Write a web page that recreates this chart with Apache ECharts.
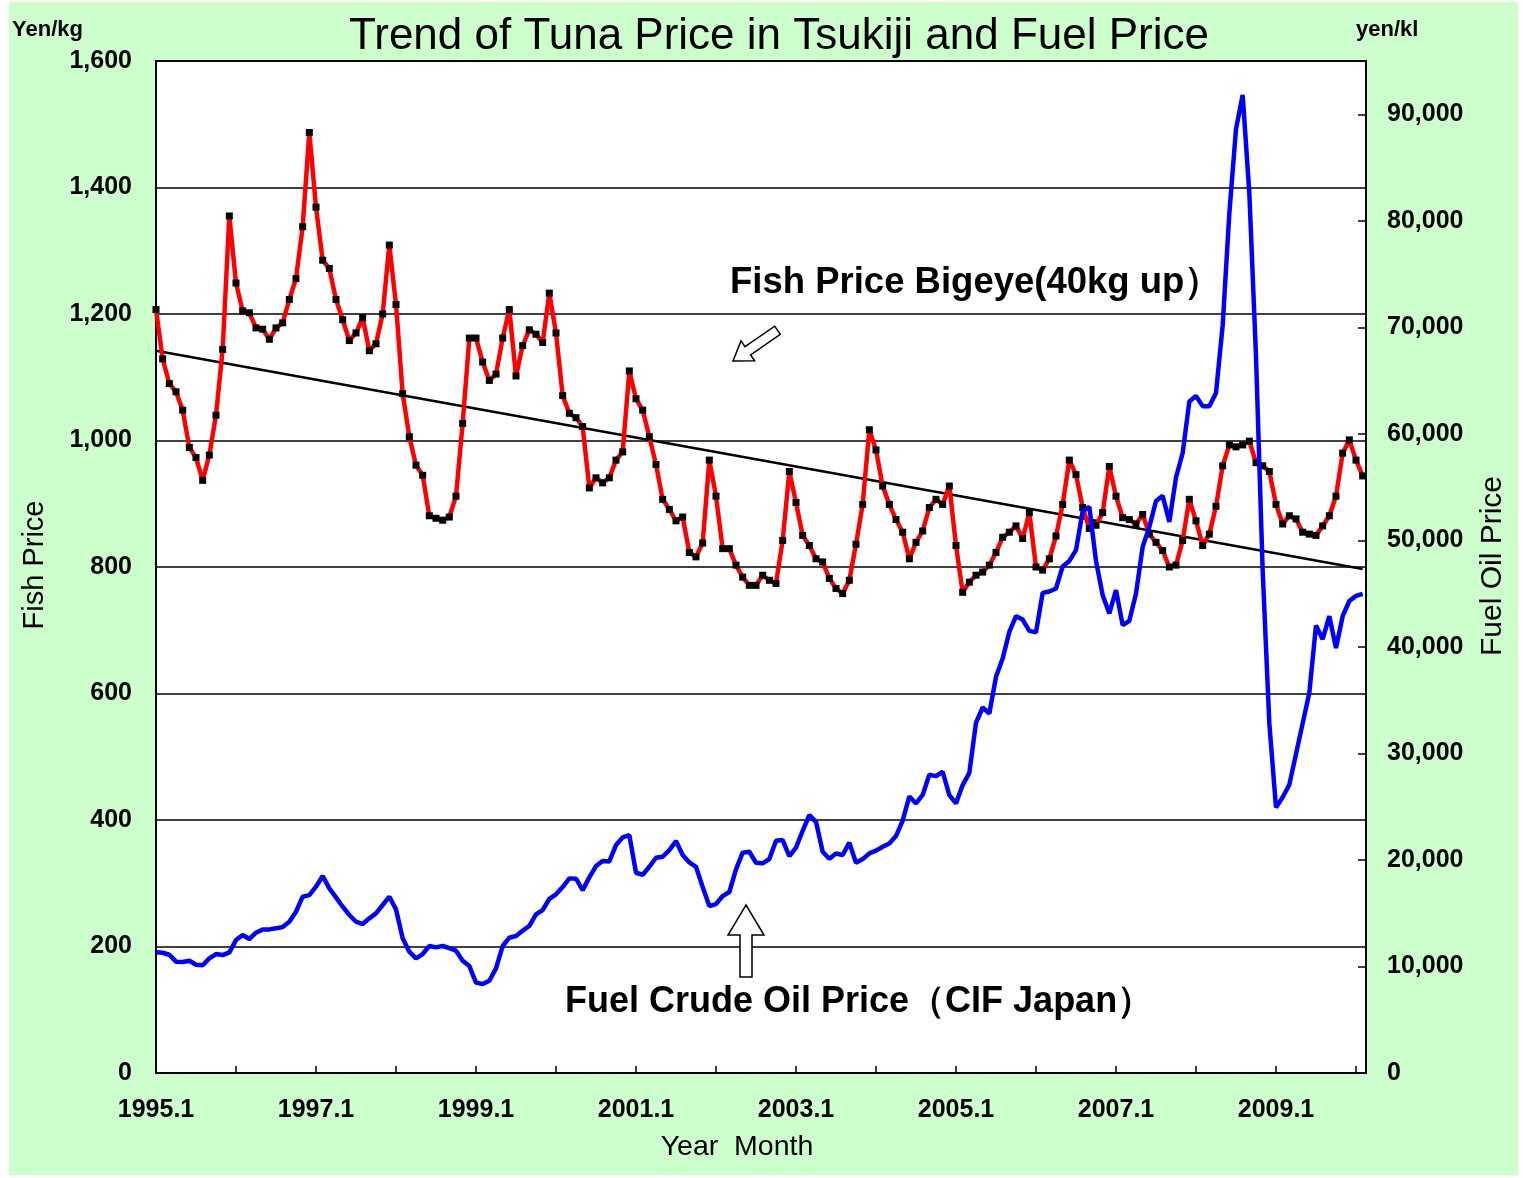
<!DOCTYPE html>
<html>
<head>
<meta charset="utf-8">
<script src="https://cdn.jsdelivr.net/npm/echarts@6/dist/echarts.min.js"></script>
<style>
    html, body {margin: 0; padding: 0; background: #fff;}
    #main {position: absolute; left: 9px; top: 2px; width: 1509px; height: 1173px;}
</style>
</head>
<body>
<div id="main"></div>
<script>
// monthly data, 1995.1 - 2010.2
const startYear = 1995;

// Tsukiji bigeye tuna price (yen/kg)
const fishPrice = [
    1207, 1129, 1090, 1077, 1048, 989, 973, 937, 977, 1040, 1144, 1355,
    1249, 1205, 1202, 1178, 1176, 1160, 1178, 1186, 1223, 1256, 1338, 1487,
    1369, 1285, 1272, 1223, 1191, 1158, 1170, 1194, 1142, 1153, 1200, 1309,
    1215, 1074, 1006, 961, 945, 881, 877, 874, 879, 912, 1027, 1162,
    1162, 1124, 1095, 1105, 1162, 1207, 1102, 1150, 1175, 1168, 1155, 1233,
    1170, 1071, 1043, 1036, 1022, 925, 941, 933, 941, 969, 982, 1110,
    1066, 1048, 1006, 962, 907, 891, 873, 879, 823, 816, 838, 969,
    912, 829, 829, 803, 784, 771, 771, 787, 779, 774, 842, 951,
    902, 850, 834, 813, 808, 782, 766, 758, 779, 836, 899, 1017,
    985, 928, 899, 875, 855, 813, 839, 857, 894, 907, 899, 928,
    834, 760, 776, 787, 792, 803, 823, 847, 855, 865, 845, 886,
    800, 795, 813, 849, 899, 969, 946, 894, 861, 866, 886, 959,
    912, 878, 875, 868, 883, 852, 839, 826, 800, 803, 842, 907,
    873, 834, 852, 896, 960, 993, 990, 993, 999, 965, 960, 951,
    899, 868, 881, 876, 855, 852, 850, 865, 881, 912, 980, 1001,
    969, 944
];

// fuel crude oil price, CIF Japan (yen/kl)
const oilPrice = [
    11330, 11290, 11100, 10450, 10420, 10540, 10160, 10110, 10760, 11170, 11070, 11330,
    12480, 12950, 12580, 13170, 13480, 13480, 13580, 13700, 14200, 15140, 16550, 16700,
    17490, 18490, 17330, 16490, 15610, 14830, 14200, 13980, 14520, 14980, 15770, 16550,
    15360, 12640, 11390, 10760, 11170, 11920, 11790, 11920, 11730, 11480, 10540, 10040,
    8480, 8350, 8660, 9820, 11920, 12700, 12860, 13360, 13800, 14880, 15300, 16350,
    16770, 17460, 18270, 18240, 17170, 18360, 19430, 19900, 19860, 21400, 22120, 22340,
    18800, 18610, 19360, 20210, 20300, 20930, 21770, 20460, 19770, 19360, 17460, 15670,
    15860, 16610, 16990, 19110, 20680, 20770, 19740, 19680, 20080, 21800, 21870, 20360,
    21150, 22740, 24210, 23580, 20770, 20110, 20610, 20460, 21620, 19740, 20080, 20610,
    20870, 21240, 21550, 22240, 23700, 25960, 25310, 26100, 28000, 27870, 28280, 26090,
    25310, 27030, 28180, 32880, 34310, 33750, 37190, 38910, 41410, 42880, 42570, 41500,
    41360, 45070, 45200, 45480, 47550, 48070, 49080, 52740, 53150, 48070, 44860, 43140,
    45330, 42040, 42450, 45010, 49390, 51270, 53700, 54180, 51740, 55900, 58200, 63040,
    63560, 62600, 62600, 63840, 70170, 80700, 88600, 91810, 82610, 67300, 47190, 32820,
    24930, 25880, 27070, 29950, 32820, 35690, 42010, 40720, 42880, 39900, 42880, 44310,
    44790, 44980
];

// linear trend of the fish price (first and last month)
const trendStart = 1142;
const trendEnd = 797;

const fishData = fishPrice.map((v, i) => [i, v]);
const oilData = oilPrice.map((v, i) => [i, v]);
const lastIdx = fishPrice.length - 1;
const trendData = [[0, trendStart], [lastIdx, trendEnd]];

// page -> chart coords (chart div is offset)
const OX = 9, OY = 2;
const pt = (x, y) => [x - OX, y - OY];

const numFont = 'Liberation Sans, Arial, sans-serif';
const labelStyle = {color: '#000', fontSize: 25, fontWeight: 'bold', fontFamily: numFont};

// helper for the free texts
function label(x, y, text, font, align, rot) {
    const p = pt(x, y);
    return {
        type: 'text', x: p[0], y: p[1], rotation: rot || 0,
        style: {text: text, fill: '#000', font: font + ' ' + numFont,
            textAlign: align, textVerticalAlign: 'middle'}
    };
}

var myChart = echarts.init(document.getElementById('main'));
myChart.setOption({
    animation: false,
    backgroundColor: '#ccffcc',
    grid: {
        left: 147, top: 59, width: 1210, height: 1012,
        show: true, backgroundColor: '#fff', borderColor: '#000', borderWidth: 2,
        containLabel: false
    },
    xAxis: {
        type: 'value',
        min: 0,
        max: 181.5,
        interval: 12,
        axisLine: {show: true, lineStyle: {color: '#000', width: 2}},
        axisTick: {show: true, inside: true, length: 7, lineStyle: {color: '#000', width: 1.5}},
        splitLine: {show: false},
        axisLabel: Object.assign({}, labelStyle, {
            margin: 25,
            showMaxLabel: false,
            formatter: function (v) {
                return v % 24 === 0 ? (startYear + v / 12) + '.1' : '';
            }
        })
    },
    yAxis: [{
        type: 'value',
        min: 0,
        max: 1600,
        interval: 200,
        axisLine: {show: true, lineStyle: {color: '#000', width: 2}},
        axisTick: {show: false},
        splitLine: {show: true, lineStyle: {color: '#000', width: 1.5}},
        axisLabel: Object.assign({}, labelStyle, {
            margin: 24,
            formatter: v => v.toLocaleString('en-US')
        })
    }, {
        type: 'value',
        position: 'right',
        min: 0,
        max: 95000,
        interval: 10000,
        axisLine: {show: true, lineStyle: {color: '#000', width: 2}},
        axisTick: {show: true, inside: true, length: 8, lineStyle: {color: '#000', width: 1.5}},
        splitLine: {show: false},
        axisLabel: Object.assign({}, labelStyle, {
            margin: 21,
            showMaxLabel: false,
            formatter: v => v.toLocaleString('en-US')
        })
    }],
    series: [
        {
            name: 'trend',
            type: 'line',
            data: trendData,
            symbol: 'none',
            lineStyle: {color: '#000', width: 2.5},
            z: 2
        },
        {
            name: 'Fish Price',
            type: 'line',
            data: fishData,
            symbol: 'rect',
            symbolSize: 7,
            itemStyle: {color: '#000'},
            lineStyle: {color: '#ff0000', width: 4.5},
            z: 3
        },
        {
            name: 'Fuel Oil Price',
            type: 'line',
            yAxisIndex: 1,
            data: oilData,
            symbol: 'none',
            lineStyle: {color: '#0000ff', width: 4.5},
            z: 4
        }
    ],
    graphic: [
        label(779, 37, 'Trend of Tuna Price in Tsukiji and Fuel Price', 'normal 44px', 'center'),
        label(12, 30, 'Yen/kg', 'bold 22px', 'left'),
        label(1356, 30, 'yen/kl', 'bold 22px', 'left'),
        label(35, 565, 'Fish Price', 'normal 29px', 'center', Math.PI / 2),
        label(1493, 566, 'Fuel Oil Price', 'normal 30px', 'center', Math.PI / 2),
        label(737, 1147, 'Year  Month', 'normal 28.5px', 'center'),
        label(730, 283, 'Fish Price Bigeye(40kg up）', 'bold 36.5px', 'left'),
        label(565, 1002, 'Fuel Crude Oil Price（CIF Japan）', 'bold 36px', 'left'),
        {
            type: 'polygon',
            shape: {points: [pt(733, 361), pt(754.6, 360.7), pt(750.6, 354.9), pt(780.3, 334.4),
                pt(774.7, 326.2), pt(745, 346.7), pt(741, 340.9)]},
            style: {fill: '#fff', stroke: '#000', lineWidth: 1.5},
            z: 10
        },
        {
            type: 'polygon',
            shape: {points: [pt(746, 905), pt(764, 935), pt(752, 935), pt(752, 977),
                pt(740, 977), pt(740, 935), pt(728, 935)]},
            style: {fill: '#fff', stroke: '#000', lineWidth: 1.5},
            z: 10
        }
    ]
});
</script>
</body>
</html>
